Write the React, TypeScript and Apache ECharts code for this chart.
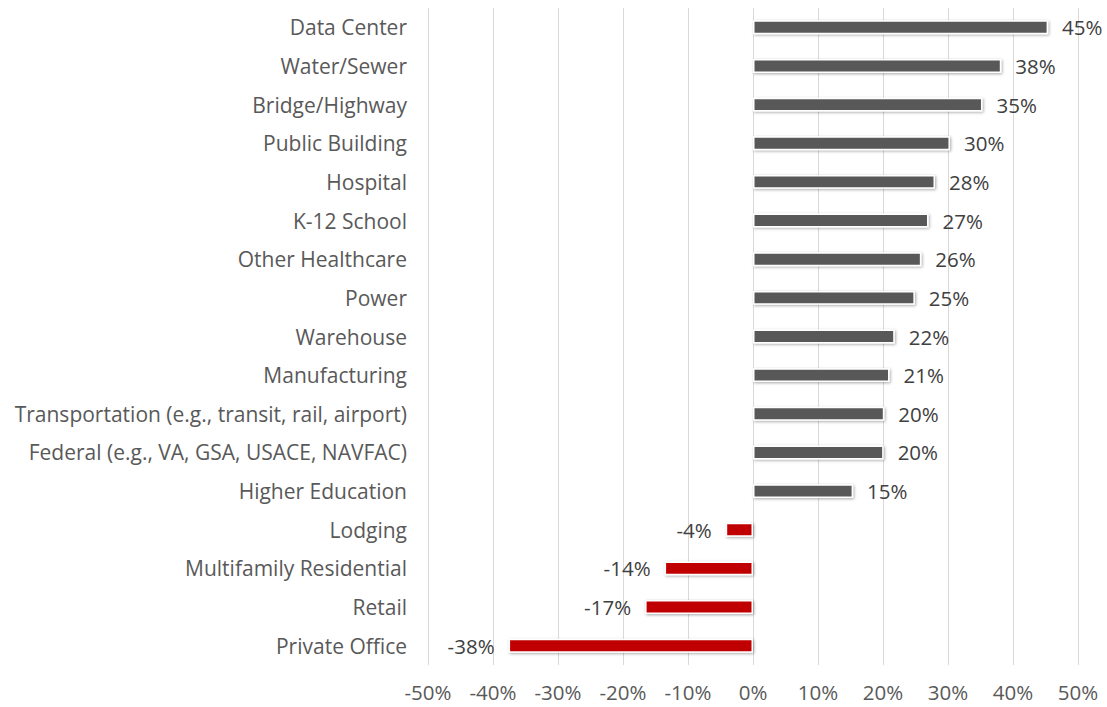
import React, { useEffect, useRef } from "react";
import * as echarts from "echarts";

const categories = [
  "Data Center",
  "Water/Sewer",
  "Bridge/Highway",
  "Public Building",
  "Hospital",
  "K-12 School",
  "Other Healthcare",
  "Power",
  "Warehouse",
  "Manufacturing",
  "Transportation (e.g., transit, rail, airport)",
  "Federal (e.g., VA, GSA, USACE, NAVFAC)",
  "Higher Education",
  "Lodging",
  "Multifamily Residential",
  "Retail",
  "Private Office",
];

const values = [45.4, 38.2, 35.3, 30.3, 28.0, 27.0, 25.9, 24.9, 21.8, 21.0, 20.2, 20.1, 15.4, -4.2, -13.6, -16.6, -37.6];

const POS_COLOR = "#595959";
const NEG_COLOR = "#C00000";
const FONT = "Open Sans";

export default function App() {
  const ref = useRef<HTMLDivElement>(null);
  useEffect(() => {
    document.body.style.margin = "0";
    if (!ref.current) return;
    const chart = echarts.init(ref.current, null, { renderer: "svg" });
    const cats = [...categories].reverse();
    const vals = [...values].reverse();
    chart.setOption({
      animation: false,
      grid: { left: 428, right: 29, top: 8, bottom: 42, containLabel: false },
      xAxis: {
        type: "value",
        min: -50,
        max: 50,
        interval: 10,
        axisLine: { show: false },
        axisTick: { show: false },
        splitLine: { show: true, lineStyle: { color: "#d9d9d9", width: 1 } },
        axisLabel: {
          formatter: (v: number) => `${v}%`,
          color: "#595959",
          fontFamily: FONT,
          fontSize: 20.5,
          margin: 16,
        },
      },
      yAxis: {
        type: "category",
        data: cats,
        axisLine: { show: false },
        axisTick: { show: false },
        axisLabel: {
          color: "#595959",
          fontFamily: FONT,
          fontSize: 21,
          margin: 21,
        },
      },
      series: [
        {
          type: "bar",
          barWidth: "36%",
          data: vals.map((v) => ({
            value: v,
            itemStyle: {
              color: v >= 0 ? POS_COLOR : NEG_COLOR,
              borderColor: "#ffffff",
              borderWidth: 1.5,
              shadowColor: "rgba(0,0,0,0.35)",
              shadowBlur: 3,
              shadowOffsetX: 1,
              shadowOffsetY: 1,
            },
            label: {
              show: true,
              position: v >= 0 ? "right" : "left",
              distance: 14,
              formatter: `${Math.round(v)}%`,
              color: "#404040",
              fontFamily: FONT,
              fontSize: 20.5,
            },
          })),
        },
      ],
    });
    return () => chart.dispose();
  }, []);
  return <div ref={ref} style={{ width: 1107, height: 707 }} />;
}
